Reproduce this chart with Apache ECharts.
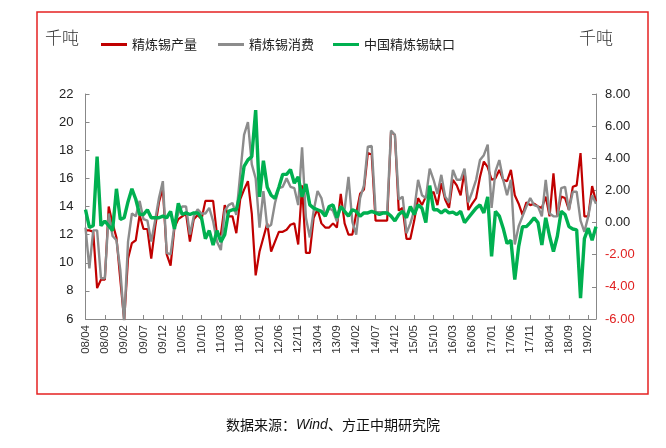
<!DOCTYPE html>
<html><head><meta charset="utf-8">
<script src="https://cdn.jsdelivr.net/npm/echarts@6/dist/echarts.min.js"></script>
<style>html,body{margin:0;padding:0;background:#fff}#c{width:666px;height:448px}</style>
</head><body><div id="c"></div>
<script>
const categories = [
'08/04','08/05','08/06','08/07','08/08','08/09','08/10','08/11','08/12',
'09/01','09/02','09/03','09/04','09/05','09/06','09/07','09/08','09/09','09/10','09/11','09/12',
'10/01','10/02','10/03','10/04','10/05','10/06','10/07','10/08','10/09','10/10','10/11','10/12',
'11/01','11/02','11/03','11/04','11/05','11/06','11/07','11/08','11/09','11/10','11/11','11/12',
'12/01','12/02','12/03','12/04','12/05','12/06','12/07','12/08','12/09','12/10','12/11','12/12',
'13/01','13/02','13/03','13/04','13/05','13/06','13/07','13/08','13/09','13/10','13/11','13/12',
'14/01','14/02','14/03','14/04','14/05','14/06','14/07','14/08','14/09','14/10','14/11','14/12',
'15/01','15/02','15/03','15/04','15/05','15/06','15/07','15/08','15/09','15/10','15/11','15/12',
'16/01','16/02','16/03','16/04','16/05','16/06','16/07','16/08','16/09','16/10','16/11','16/12',
'17/01','17/02','17/03','17/04','17/05','17/06','17/07','17/08','17/09','17/10','17/11','17/12',
'18/01','18/02','18/03','18/04','18/05','18/06','18/07','18/08','18/09','18/10','18/11','18/12',
'19/01','19/02','19/03','19/04'];

const production = [
12.3,12.3,12.2,8.2,8.8,8.8,14.0,12.8,11.8,8.8,5.9,10.3,11.4,11.6,13.4,12.4,12.4,10.3,12.5,14.3,
15.3,10.6,9.8,12.5,13.1,13.3,13.5,11.5,13.1,13.4,13.1,14.4,14.4,14.4,12.0,12.0,14.1,13.3,13.3,12.1,
14.5,15.2,15.8,13.5,9.1,10.8,11.8,12.8,10.8,11.5,12.2,12.2,12.35,12.7,12.8,11.3,15.5,10.7,10.7,13.2,
13.8,12.8,12.5,12.5,12.8,12.5,14.9,12.8,12.0,12.0,13.5,14.9,15.2,17.8,17.7,13.0,13.0,13.0,13.0,19.3,
19.1,13.7,13.9,11.7,11.7,13.0,14.6,14.1,14.7,14.8,15.05,14.1,15.65,14.5,13.9,15.9,15.5,14.8,16.5,13.75,
14.2,14.6,16.1,17.2,16.8,15.9,16.0,16.6,15.9,15.8,16.6,14.8,14.2,13.4,14.3,14.1,14.2,14.0,13.9,14.7,
13.3,16.35,13.3,14.7,14.6,13.75,15.4,15.5,17.8,13.3,13.3,15.45,14.35];

const consumption = [
12.5,9.6,12.3,12.3,8.9,8.9,13.5,11.9,11.6,9.5,5.8,11.5,13.5,13.3,14.4,13.1,13.0,11.5,13.0,14.6,
15.8,10.7,10.6,12.7,13.5,14.0,14.0,12.0,13.3,13.8,13.5,13.5,13.9,12.95,11.5,10.9,13.7,14.1,14.25,13.4,
16.3,19.1,20.0,17.0,16.0,12.5,15.1,12.5,12.7,14.25,15.3,15.4,16.0,15.4,15.3,14.1,18.2,13.2,11.8,13.7,
15.1,14.6,13.3,13.9,13.7,12.95,14.0,13.8,16.1,12.9,12.0,14.6,15.5,18.25,18.3,13.6,13.6,13.6,13.6,19.4,
19.1,14.5,14.7,12.1,12.8,13.75,15.9,14.8,14.6,16.7,15.9,14.9,16.25,14.7,14.3,16.6,15.9,15.9,16.7,14.3,
15.05,15.9,17.3,17.65,18.4,13.9,16.5,17.3,15.9,14.8,15.9,11.3,12.6,13.3,14.0,14.6,14.1,14.0,13.3,15.9,
13.5,13.3,13.3,15.3,15.4,13.75,15.05,15.05,13.0,12.2,13.3,14.8,14.2];

const gap = [
0.8,-0.3,-0.2,4.1,-0.2,0.1,-0.2,-0.5,2.1,0.2,0.3,1.3,2.1,1.45,0.5,0.5,0.8,0.3,0.3,0.3,
0.4,0.3,0.7,-0.4,1.2,0.5,0.6,0.5,0.6,0.6,0.3,-1.0,-0.5,-1.4,-0.5,-1.2,-0.75,0.7,0.8,0.8,
1.8,3.5,3.9,4.1,7.0,1.6,3.85,2.2,1.7,1.5,2.2,3.0,3.0,3.3,2.45,2.85,1.6,2.4,1.1,0.9,
0.8,0.7,0.4,1.0,1.1,0.3,1.0,0.7,0.4,0.8,0.7,0.4,0.6,0.6,0.7,0.6,0.5,0.6,0.6,0.4,
0.1,0.5,0.7,0.3,1.0,0.5,1.1,0.9,0.0,2.3,0.8,0.8,0.6,0.8,0.6,0.65,0.5,0.7,0.0,0.3,
0.6,0.9,1.1,0.6,1.6,-2.1,0.7,0.4,-0.35,-1.3,-1.1,-3.55,-1.5,-0.25,-0.25,0.0,0.3,0.0,-1.4,0.3,
-0.85,-1.8,-0.85,0.7,0.5,-0.25,-0.4,-0.45,-4.7,-1.0,-0.35,-1.1,-0.25];

const seriesNames = ['精炼锡产量','精炼锡消费','中国精炼锡缺口'];
const leftTicks = {min: 6, max: 22, interval: 2};
const rightTicks = {min: -6, max: 8, interval: 2};

const FONT = 'Liberation Sans, Arial, sans-serif';
const CJK = 'Noto Sans CJK SC, sans-serif';
const chart = echarts.init(document.getElementById('c'), null, {renderer: 'canvas'});
const legendBase = {
  top: 33, itemWidth: 26, itemHeight: 3, icon: 'rect', itemGap: 4,
  textStyle: {fontFamily: CJK, fontSize: 13, color: '#222'}
};
chart.setOption({
  animation: false,
  backgroundColor: '#fff',
  grid: {left: 85.5, right: 70, top: 94, bottom: 129},
  legend: [
    Object.assign({}, legendBase, {left: 96, data: [seriesNames[0]]}),
    Object.assign({}, legendBase, {left: 213, data: [seriesNames[1]]}),
    Object.assign({}, legendBase, {left: 328, data: [seriesNames[2]]})
  ],
  graphic: [
    {type: 'rect', shape: {x: 37, y: 12, width: 611, height: 382},
     style: {fill: 'none', stroke: '#E52222', lineWidth: 1.5}, silent: true},
    {type: 'text', left: 45, top: 29,
     style: {text: '千吨', font: '300 17px Noto Sans CJK SC', fill: '#333'}},
    {type: 'text', left: 579, top: 29,
     style: {text: '千吨', font: '300 17px Noto Sans CJK SC', fill: '#333'}},
    {type: 'text', left: 'center', top: 418,
     style: {
       text: '{a|数据来源：}{b|Wind}{a|、方正中期研究院}',
       rich: {
         a: {fontFamily: CJK, fontSize: 14, fill: '#111'},
         b: {fontFamily: FONT, fontSize: 14, fontStyle: 'italic', fill: '#111'}
       }
     }}
  ],
  xAxis: {
    type: 'category', data: categories, boundaryGap: false,
    axisLine: {onZero: false, lineStyle: {color: '#888', width: 1}},
    axisTick: {inside: true, interval: 4, length: 4, lineStyle: {color: '#888'}},
    axisLabel: {interval: 4, rotate: 90, fontFamily: FONT, fontSize: 11.5, color: '#333', margin: 6},
    splitLine: {show: false}
  },
  yAxis: [
    {type: 'value', min: leftTicks.min, max: leftTicks.max, interval: leftTicks.interval,
     position: 'left',
     axisLine: {show: true, lineStyle: {color: '#888'}},
     axisTick: {show: true, inside: true, length: 4, lineStyle: {color: '#888'}},
     axisLabel: {fontFamily: FONT, fontSize: 13, color: '#222', margin: 12},
     splitLine: {show: false}},
    {type: 'value', min: rightTicks.min, max: rightTicks.max, interval: rightTicks.interval,
     position: 'right',
     axisLine: {show: true, lineStyle: {color: '#888'}},
     axisTick: {show: true, inside: true, length: 4, lineStyle: {color: '#888'}},
     axisLabel: {fontFamily: FONT, fontSize: 13, margin: 9,
       formatter: v => v.toFixed(2),
       color: v => (Number(v) < 0 ? '#E02020' : '#222')},
     splitLine: {show: false}}
  ],
  series: [
    {name: seriesNames[0], type: 'line', yAxisIndex: 0, data: production, symbol: 'none',
     lineStyle: {color: '#C00000', width: 2.2}, itemStyle: {color: '#C00000'}, z: 2},
    {name: seriesNames[1], type: 'line', yAxisIndex: 0, data: consumption, symbol: 'none',
     lineStyle: {color: '#8C8C8C', width: 2.4}, itemStyle: {color: '#8C8C8C'}, z: 3},
    {name: seriesNames[2], type: 'line', yAxisIndex: 1, data: gap, symbol: 'none',
     lineStyle: {color: '#00B050', width: 3.4}, itemStyle: {color: '#00B050'}, z: 4}
  ]
});
</script></body></html>
